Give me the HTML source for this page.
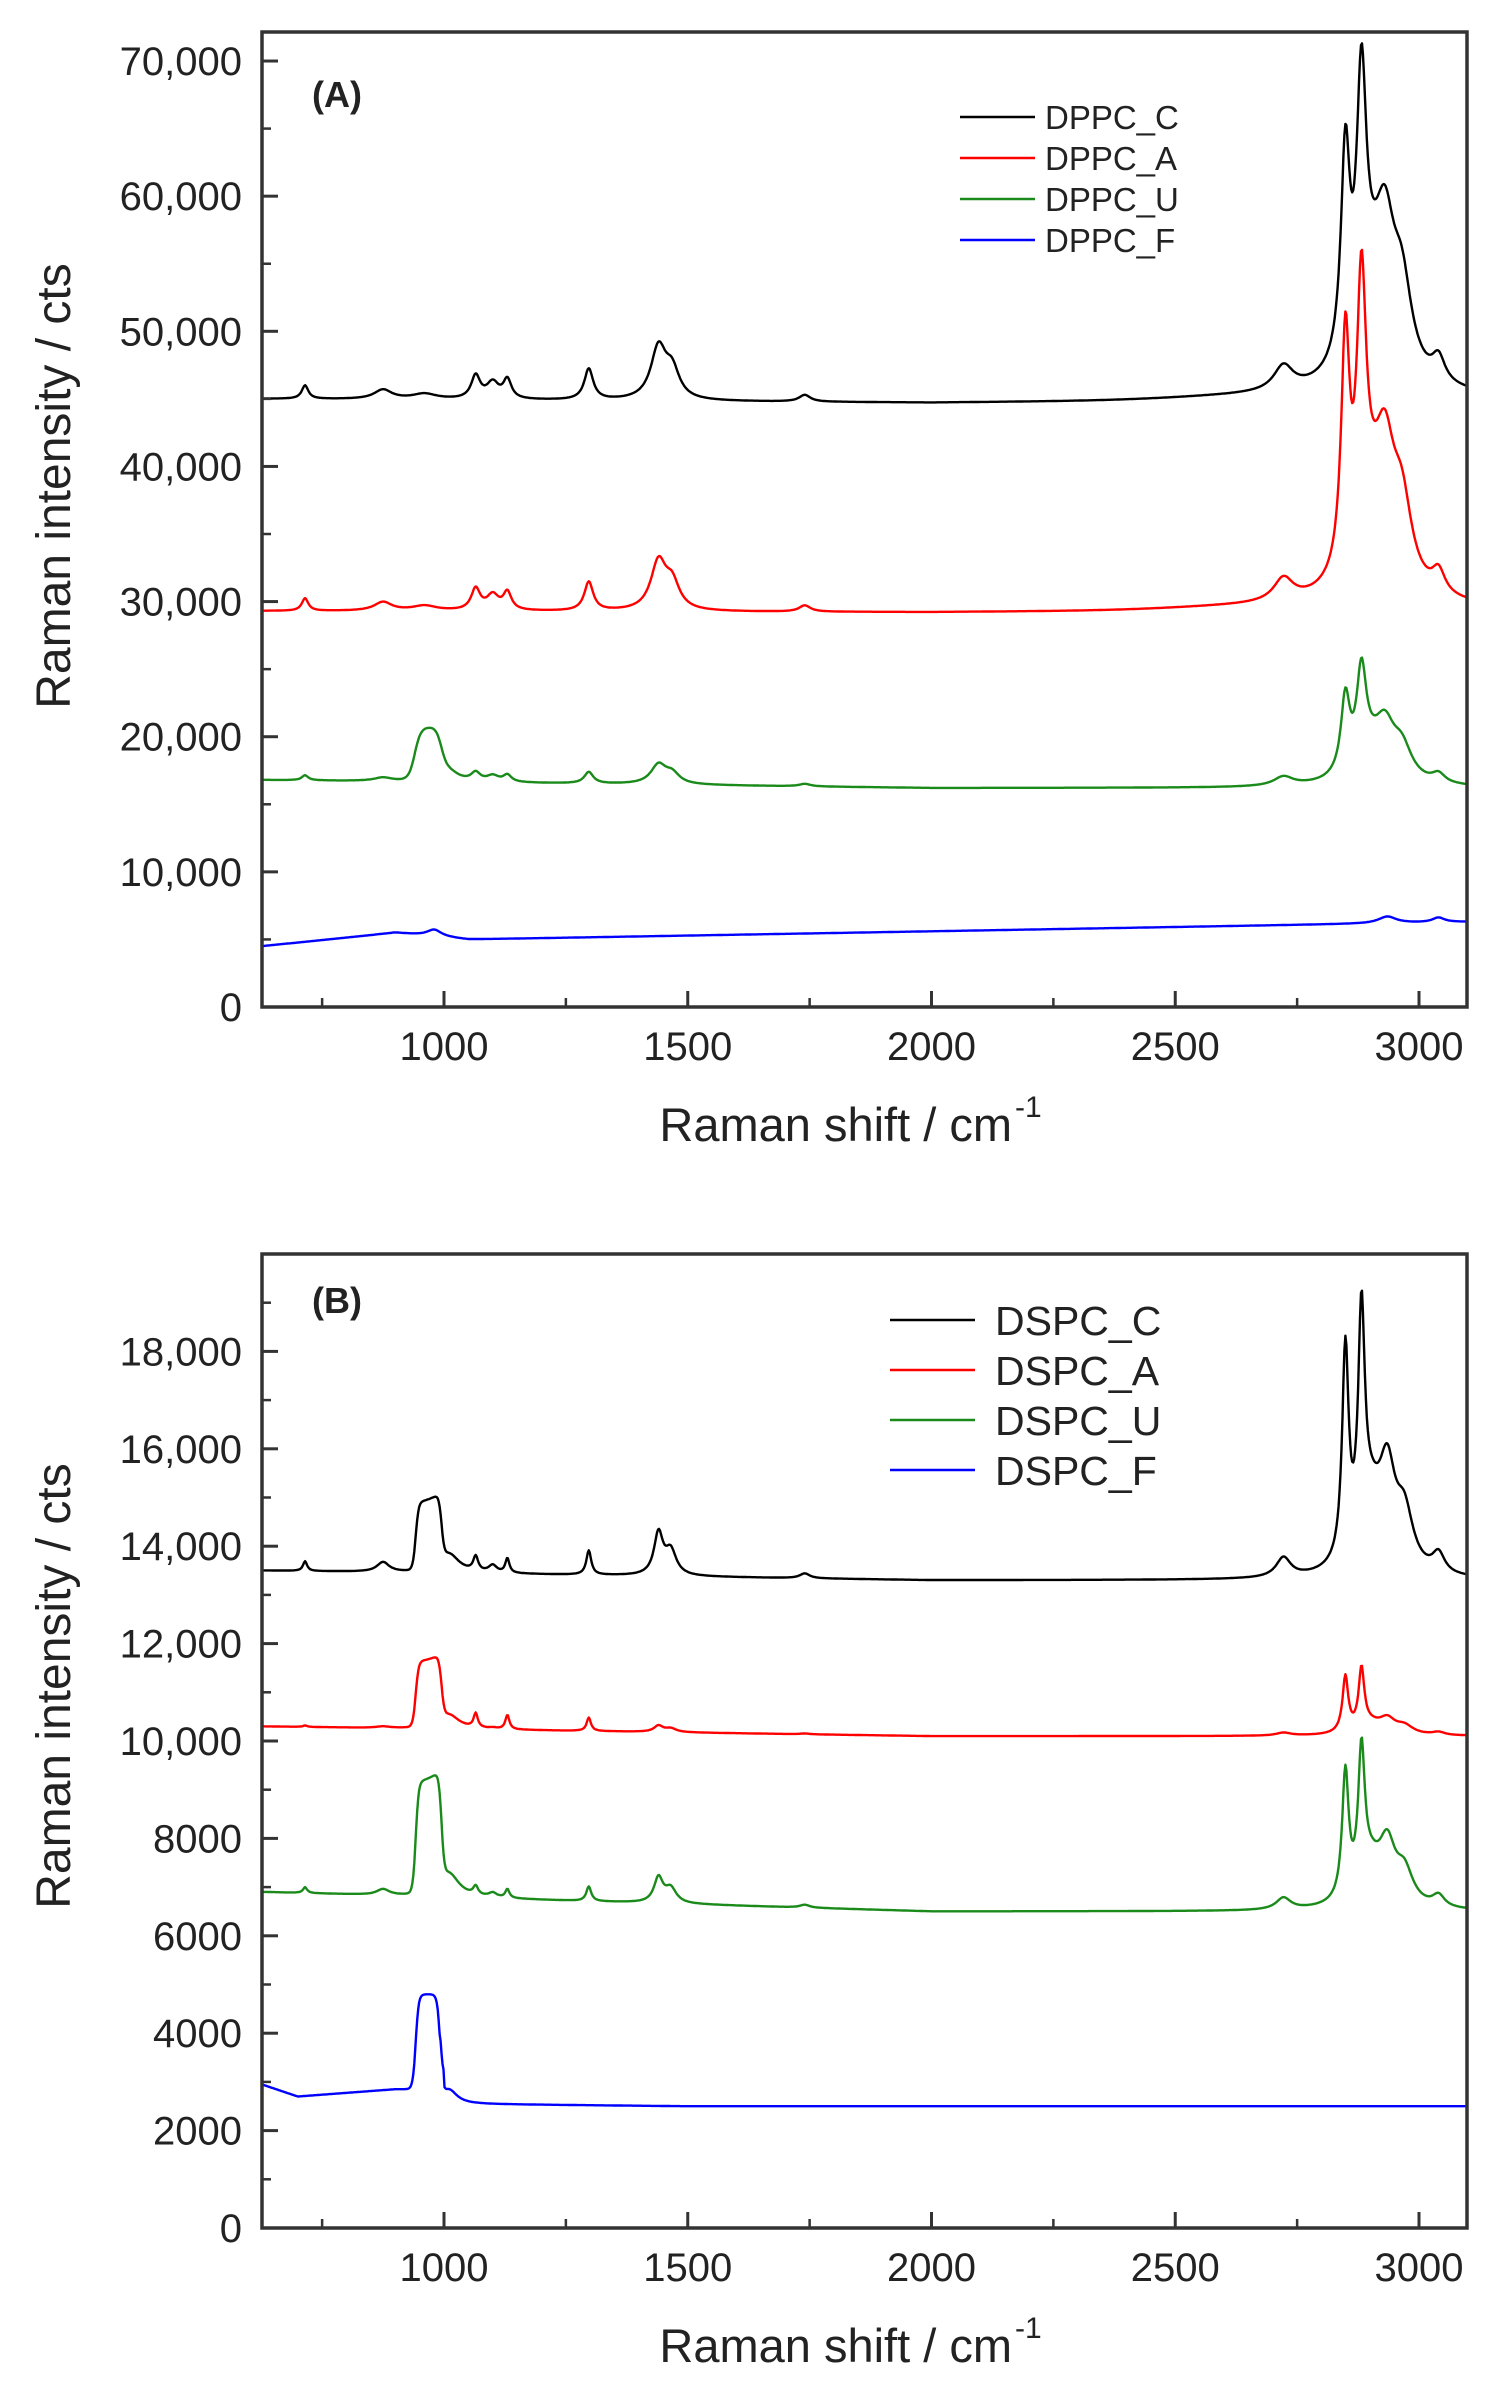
<!DOCTYPE html>
<html><head><meta charset="utf-8">
<style>
html,body{margin:0;padding:0;background:#fff;}
svg{display:block;}
text{font-family:"Liberation Sans",Arial,sans-serif;fill:#222;}
</style></head>
<body>
<svg id="s" width="1501" height="2395" viewBox="0 0 1501 2395" xmlns="http://www.w3.org/2000/svg"></svg>
<script>
var S=document.getElementById('s');
var NS='http://www.w3.org/2000/svg';
function el(t,a,txt){var e=document.createElementNS(NS,t);for(var k in a)e.setAttribute(k,a[k]);if(txt!==undefined)e.textContent=txt;S.appendChild(e);return e;}
function X(v){return 1419-(3000-v)*0.4875;}
function L(x,c,w){var d=(x-c)/w;return 1/(1+d*d);}
function P(x,a,b,s){return 1/(1+Math.exp(-(x-a)/s))/(1+Math.exp(-(b-x)/s));}
var X0=627,X1=3100;
function lipid(x){
 return 1000*L(x,715,8)+700*L(x,875,22)+400*L(x,960,30)+1700*L(x,1065,11)+1200*L(x,1100,15)+1400*L(x,1130,10)
 +2300*L(x,1297,11)+3800*L(x,1440,19)+2000*L(x,1468,18)+500*L(x,1740,14)+1800*L(x,2722,24)
 +15000*L(x,2849,11)+18000*L(x,2882,12)+9000*L(x,2930,25)+6000*L(x,2965,25)+1800*L(x,3040,16)+5000*L(x,2900,40);
}
function path(f,Y,col,sw){
 var d='';
 for(var x=X0;x<=X1;x+=2){var y=Y(f(x));d+=(x==X0?'M':'L')+X(x).toFixed(1)+','+y.toFixed(1);}
 el('path',{d:d,fill:'none',stroke:col,'stroke-width':sw||2.4,'stroke-linejoin':'round'});
}
function base(x,a,b,c){
 if(x<2000)return a+(b-a)*(x-626)/(1374);return b+(c-b)*(x-2000)/1100;
}
var YA=function(v){return 1007-v*0.013514;};
path(function(x){return base(x,45000,44700,45000)+300*P(x,2500,3100,80)+lipid(x);},YA,'#000');
path(function(x){return base(x,29300,29200,29400)+300*P(x,2500,3100,80)+lipid(x)*0.93+3000*L(x,2849,8)+2000*L(x,2882,8);},YA,'#f00');
path(function(x){return base(x,16800,16200,16200)+3700*P(x,940,995,6)+800*L(x,1010,25)+lipid(x)*0.37;},YA,'#1a8a1a');
path(function(x){var b;
 if(x<900)b=4500+1000*(x-626)/274;else if(x<1050)b=5500-500*(x-900)/150;else b=5000+1300*(x-1050)/2050;
 return b+500*L(x,980,18)+500*L(x,2935,22)+350*L(x,3040,15);},YA,'#00f');
var YB=function(v){return 2228-v*0.0487;};
function lipB(x){
 return 200*L(x,715,5)+200*L(x,875,15)+300*L(x,1065,6)+150*L(x,1100,10)+300*L(x,1130,5)+500*L(x,1297,6)+850*L(x,1440,11)+500*L(x,1465,14)+100*L(x,1740,12)
 +400*L(x,2722,18)+4300*L(x,2849,8)+4500*L(x,2882,8)+1800*L(x,2935,20)+1100*L(x,2970,22)+400*L(x,3040,15)+1300*L(x,2900,30);
}
path(function(x){return base(x,13500,13300,13300)+1400*P(x,942,995,3)+400*L(x,1010,25)+lipB(x);},YB,'#000');
path(function(x){return base(x,10300,10100,10100)+1350*P(x,942,995,3)+300*L(x,1010,25)+lipB(x)*0.15+500*L(x,2849,6)+550*L(x,2882,6)+250*L(x,1065,5)+250*L(x,1130,5)+200*L(x,1297,5);},YB,'#f00');
path(function(x){return base(x,6900,6500,6500)+2300*P(x,942,995,3)+500*L(x,1010,25)+lipB(x)*0.6;},YB,'#1a8a1a');
path(function(x){var b=x<700?2950-250*(x-626)/74:(x<900?2700+150*(x-700)/200:2850);if(x>1000)b=2550-50*Math.min(1,(x-1000)/500);
 return b+1950*P(x,942,992,3)+300*L(x,1010,20)*(x>992?1:0);},YB,'#00f');
function axes(top,bot,Y,ymin,ylabels,yt){
 var l=262,r=1467;
 for(var v=1000;v<=3000;v+=500){el('line',{x1:X(v),x2:X(v),y1:bot,y2:bot-16,stroke:'#333','stroke-width':3});
  el('text',{x:X(v),y:bot+53,'font-size':40,'text-anchor':'middle'},String(v));}
 for(var v=750;v<=3000;v+=500)el('line',{x1:X(v),x2:X(v),y1:bot,y2:bot-9,stroke:'#333','stroke-width':2.5});
 ylabels.forEach(function(p){el('line',{x1:l,x2:l+16,y1:Y(p[0]),y2:Y(p[0]),stroke:'#333','stroke-width':3});
  el('text',{x:l-20,y:Y(p[0])+14,'font-size':40,'text-anchor':'end'},p[1]);});
 ymin.forEach(function(v){el('line',{x1:l,x2:l+9,y1:Y(v),y2:Y(v),stroke:'#333','stroke-width':2.5});});
 el('rect',{x:l,y:top,width:r-l,height:bot-top,fill:'none',stroke:'#333','stroke-width':3.5});
 el('text',{x:1012,y:bot+134,'font-size':47,'text-anchor':'end'},'Raman shift / cm');
 el('text',{x:1015,y:bot+110,'font-size':30},'-1');
 el('text',{x:0,y:0,'font-size':48,'text-anchor':'middle',transform:'translate(70,'+yt+') rotate(-90)'},'Raman intensity / cts');
}
var la=[],mna=[];for(var v=0;v<=70000;v+=10000){la.push([v,v==0?'0':(v/1000)+',000']);mna.push(v+5000);}
axes(32,1007,YA,mna,la,486);
var lb=[],mnb=[];for(var v=0;v<=18000;v+=2000){lb.push([v,v==0?'0':(v>=10000?(v/1000)+',000':String(v))]);mnb.push(v+1000);}
axes(1254,2228,YB,mnb,lb,1686);
el('text',{x:312,y:107,'font-size':36,'font-weight':'bold'},'(A)');
el('text',{x:312,y:1313,'font-size':36,'font-weight':'bold'},'(B)');
var legA=[['DPPC_C','#000'],['DPPC_A','#f00'],['DPPC_U','#1a8a1a'],['DPPC_F','#00f']];
legA.forEach(function(p,i){var y=117+i*41;el('line',{x1:960,x2:1035,y1:y,y2:y,stroke:p[1],'stroke-width':2.5});
 el('text',{x:1045,y:y+12,'font-size':33},p[0]);});
var legB=[['DSPC_C','#000'],['DSPC_A','#f00'],['DSPC_U','#1a8a1a'],['DSPC_F','#00f']];
legB.forEach(function(p,i){var y=1320+i*50;el('line',{x1:890,x2:975,y1:y,y2:y,stroke:p[1],'stroke-width':2.5});
 el('text',{x:995,y:y+15,'font-size':41},p[0]);});
</script>
</body></html>
